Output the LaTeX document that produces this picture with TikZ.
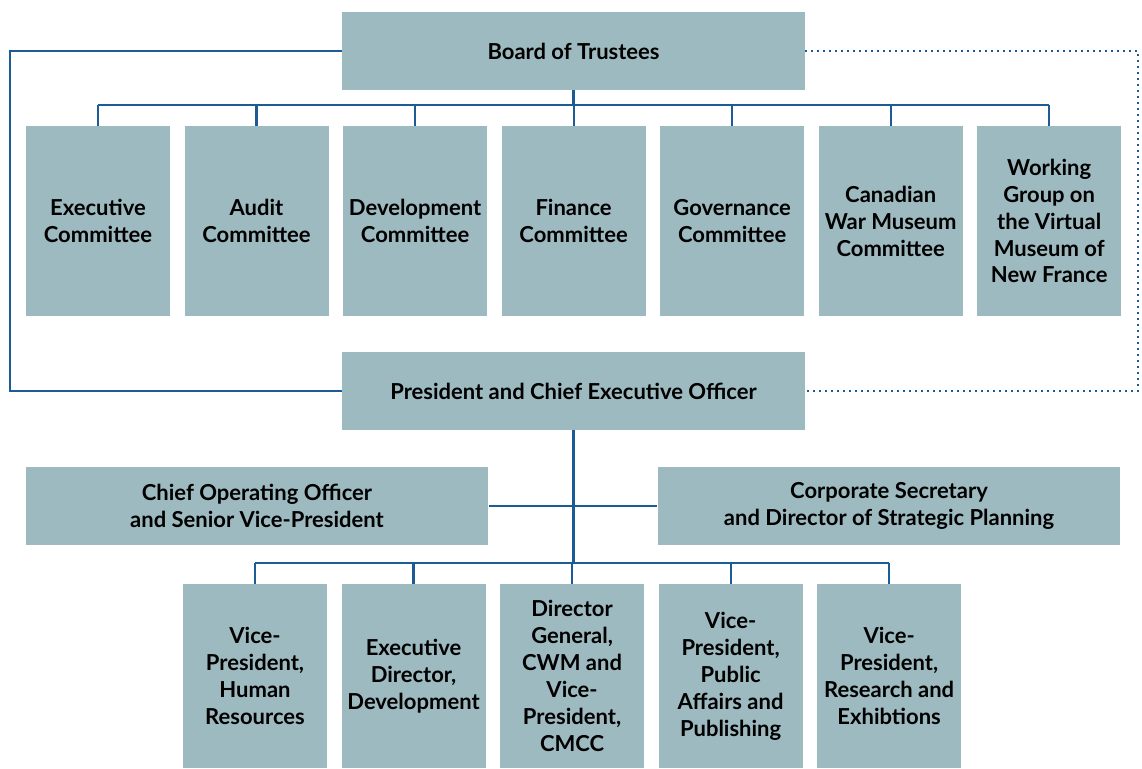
\documentclass[tikz,border=0pt]{standalone}
\usepackage{fontspec}
\setmainfont{Lato}
\usetikzlibrary{positioning}
\definecolor{boxteal}{HTML}{9DBAC0}
\definecolor{linkblue}{HTML}{1B5C97}
\newcommand{\chartfont}{\fontsize{16.5}{20.2}\selectfont\bfseries}

\begin{document}
\begin{tikzpicture}[
    x=0.75pt, y=-0.75pt,
    node distance=10.5pt,
    link/.style={draw=linkblue, line width=1.6pt},
    dotlink/.style={link, line width=1.5pt, dash pattern=on 1.5pt off 3pt},
    every node/.style={ fill=boxteal,
                        align=center,
                        font=\chartfont,
                        inner sep=2pt},
    wide/.style={minimum width=347pt, minimum height=58.5pt},
    cmte/.style={minimum width=108pt, minimum height=142.5pt},
    unit/.style={minimum width=108pt, minimum height=138pt}]

    \useasboundingbox (0,0) rectangle (1142,768);

    % rails and buses
    \coordinate (leftrail) at (10,0);
    \coordinate (rightrail) at (1138,0);
    \coordinate (cmtebus) at (0,105);
    \coordinate (unitbus) at (0,563);

    \node[wide] (board) at (573.5,51) {Board of Trustees};

    \node[cmte] (c1) at (98,221) {Executive\\Committee};
    \node[cmte, right=of c1] (c2) {Audit\\Committee};
    \node[cmte, right=of c2] (c3) {Development\\Committee};
    \node[cmte, right=of c3] (c4) {Finance\\Committee};
    \node[cmte, right=of c4] (c5) {Governance\\Committee};
    \node[cmte, right=of c5] (c6) {Canadian\\War Museum\\Committee};
    \node[cmte, right=of c6] (c7) {Working\\Group on\\the Virtual\\Museum of\\New France};

    \node[wide] (ceo) at (573.5,391) {President and Chief Executive Officer};

    \node[wide] (coo) at (257,506) {Chief Operating Officer\\and Senior Vice-President};
    \node[wide] (corpsec) at (889,506) {Corporate Secretary\\and Director of Strategic Planning};

    \node[unit] (u1) at (255,676) {Vice-\\President,\\Human\\Resources};
    \node[unit, right=of u1] (u2) {Executive\\Director,\\Development};
    \node[unit, right=of u2] (u3) {Director\\General,\\CWM and\\Vice-\\President,\\CMCC};
    \node[unit, right=of u3] (u4) {Vice-\\President,\\Public\\Affairs and\\Publishing};
    \node[unit, right=of u4] (u5) {Vice-\\President,\\Research and\\Exhibtions};

    % board to committees
    \draw[link] (board.south) -- (board.south |- cmtebus);
    \draw[link] (c1.north |- cmtebus) -- (c7.north |- cmtebus);
    \foreach \c in {c1,c2,c3,c4,c5,c6,c7}
        \draw[link] (\c.north) -- (\c.north |- cmtebus);

    % board to president
    \draw[link] (board.west) -- (board.west -| leftrail) |- (ceo.west);
    \draw[dotlink] (board.east) -- (board.east -| rightrail) |- (ceo.east);

    % president downwards
    \draw[link] (ceo.south) -- (ceo.south |- unitbus);
    \draw[link] (coo.east) -- (corpsec.west);
    \draw[link] (u1.north |- unitbus) -- (u5.north |- unitbus);
    \foreach \u in {u1,u2,u3,u4,u5}
        \draw[link] (\u.north) -- (\u.north |- unitbus);

\end{tikzpicture}
\end{document}
